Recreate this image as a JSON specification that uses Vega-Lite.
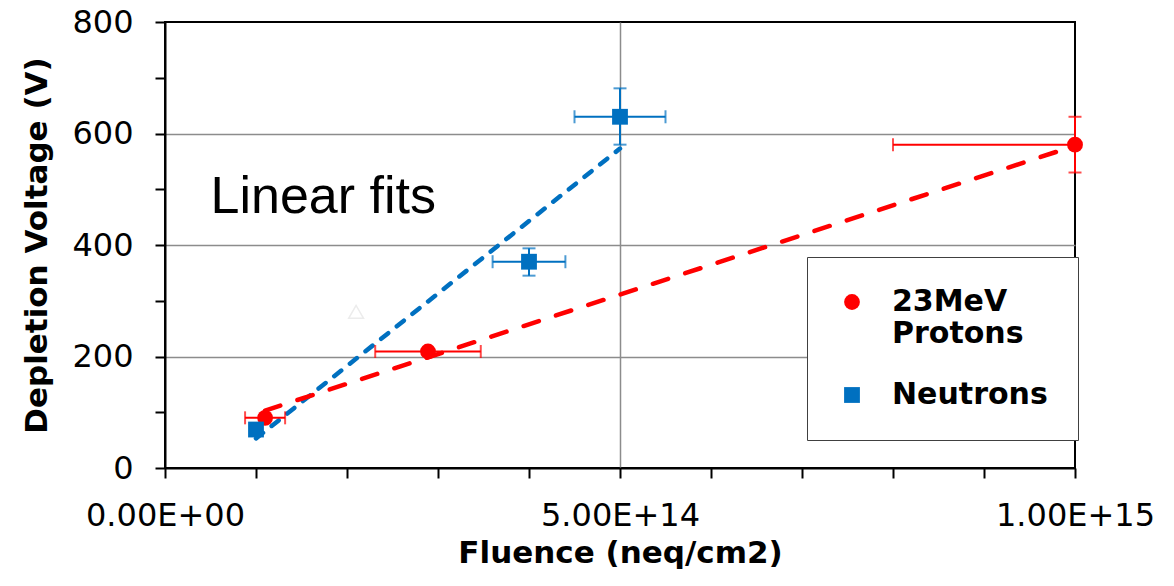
{
  "$schema": "https://vega.github.io/schema/vega-lite/v6.json",
  "width": 910,
  "height": 446,
  "autosize": {"type": "none"},
  "padding": {"left": 165, "top": 22, "right": 99, "bottom": 118},
  "background": "white",
  "config": {
    "view": {"stroke": "black", "strokeWidth": 2},
    "font": "DejaVu Sans",
    "axis": {
      "domainColor": "black", "domainWidth": 2,
      "tickColor": "black", "tickWidth": 2,
      "gridColor": "#8c8c8c", "gridWidth": 1.5,
      "labelFont": "DejaVu Sans", "labelFontSize": 32, "labelColor": "black",
      "titleFont": "DejaVu Sans", "titleFontWeight": "bold", "titleFontSize": 31, "titleColor": "black",
      "labelOverlap": false, "labelFlush": false
    },
    "legend": {
      "strokeColor": "#404040", "fillColor": "white", "padding": 30,
      "labelFont": "DejaVu Sans", "labelFontWeight": "bold", "labelFontSize": 30, "labelColor": "black",
      "labelLimit": 500, "labelOffset": 25, "rowPadding": 31,
      "symbolSize": 250, "symbolStrokeWidth": 0
    }
  },
  "datasets": {
    "points": [
      {"series": "23MeV Protons", "fluence": 1.1e14, "voltage": 90, "fluence_lo": 0.88e14, "fluence_hi": 1.32e14},
      {"series": "23MeV Protons", "fluence": 2.89e14, "voltage": 209, "fluence_lo": 2.31e14, "fluence_hi": 3.47e14},
      {"series": "23MeV Protons", "fluence": 1e15, "voltage": 580, "fluence_lo": 8e14, "fluence_hi": 1.2e15, "voltage_lo": 530, "voltage_hi": 630},
      {"series": "Neutrons", "fluence": 1e14, "voltage": 69},
      {"series": "Neutrons", "fluence": 4e14, "voltage": 370, "fluence_lo": 3.6e14, "fluence_hi": 4.4e14, "voltage_lo": 345, "voltage_hi": 394},
      {"series": "Neutrons", "fluence": 5e14, "voltage": 630, "fluence_lo": 4.5e14, "fluence_hi": 5.5e14, "voltage_lo": 580, "voltage_hi": 681}
    ],
    "fits": [
      {"series": "23MeV Protons", "fluence": 1.1e14, "voltage": 103},
      {"series": "23MeV Protons", "fluence": 1e15, "voltage": 578},
      {"series": "Neutrons", "fluence": 1e14, "voltage": 53},
      {"series": "Neutrons", "fluence": 5e14, "voltage": 573}
    ],
    "hidden": [
      {"fluence": 2.1e14, "voltage": 280}
    ]
  },
  "layer": [
    {
      "data": {"name": "hidden"},
      "mark": {"type": "point", "shape": "triangle-up", "filled": false, "stroke": "#ececec", "strokeWidth": 1.5, "size": 220, "opacity": 1},
      "encoding": {
        "x": {
          "field": "fluence", "type": "quantitative", "title": "Fluence (neq/cm2)",
          "scale": {"domain": [0, 1e15], "nice": false, "zero": false},
          "axis": {
            "values": [0, 1e14, 2e14, 3e14, 4e14, 5e14, 6e14, 7e14, 8e14, 9e14, 1e15],
            "labelExpr": "datum.value == 0 ? '0.00E+00' : (datum.value % 5e14 == 0 ? upper(format(datum.value, '.2e')) : '')",
            "tickSize": 10, "labelPadding": 22, "titlePadding": 7,
            "grid": true,
            "gridOpacity": {"condition": {"test": "datum.value == 5e14", "value": 1}, "value": 0}
          }
        },
        "y": {
          "field": "voltage", "type": "quantitative", "title": "Depletion Voltage (V)",
          "scale": {"domain": [0, 800], "nice": false, "zero": false},
          "axis": {
            "values": [0, 50, 100, 150, 200, 250, 300, 350, 400, 450, 500, 550, 600, 650, 700, 750, 800],
            "labelExpr": "datum.value % 200 == 0 ? datum.label : ''",
            "tickSize": 10, "labelPadding": 22, "titlePadding": 18,
            "grid": true,
            "gridOpacity": {"condition": {"test": "datum.value % 200 == 0 && datum.value > 0 && datum.value < 800", "value": 1}, "value": 0}
          }
        }
      }
    },
    {
      "data": {"name": "fits"},
      "transform": [{"filter": "datum.series == 'Neutrons'"}],
      "mark": {"type": "line", "color": "#0070C0", "strokeWidth": 4.5, "strokeDash": [9, 11], "strokeCap": "round"},
      "encoding": {
        "x": {"field": "fluence", "type": "quantitative", "title": "Fluence (neq/cm2)"},
        "y": {"field": "voltage", "type": "quantitative", "title": "Depletion Voltage (V)"}
      }
    },
    {
      "data": {"name": "fits"},
      "transform": [{"filter": "datum.series == '23MeV Protons'"}],
      "mark": {"type": "line", "color": "#FF0000", "strokeWidth": 4.5, "strokeDash": [16, 18], "strokeCap": "round"},
      "encoding": {
        "x": {"field": "fluence", "type": "quantitative", "title": "Fluence (neq/cm2)"},
        "y": {"field": "voltage", "type": "quantitative", "title": "Depletion Voltage (V)"}
      }
    },
    {
      "data": {"name": "points"},
      "transform": [{"filter": "isValid(datum.fluence_lo)"}],
      "mark": {"type": "rule", "strokeWidth": 2, "clip": true},
      "encoding": {
        "x": {"field": "fluence_lo", "type": "quantitative", "title": "Fluence (neq/cm2)"},
        "x2": {"field": "fluence_hi"},
        "y": {"field": "voltage", "type": "quantitative", "title": "Depletion Voltage (V)"},
        "stroke": {"field": "series", "type": "nominal", "scale": {"range": ["#FF0000", "#0070C0"]}, "legend": null}
      }
    },
    {
      "data": {"name": "points"},
      "transform": [
        {"filter": "isValid(datum.fluence_lo)"},
        {"fold": ["fluence_lo", "fluence_hi"], "as": ["end", "cap"]}
      ],
      "mark": {"type": "tick", "orient": "vertical", "thickness": 2, "size": 13, "clip": true},
      "encoding": {
        "x": {"field": "cap", "type": "quantitative", "title": "Fluence (neq/cm2)"},
        "y": {"field": "voltage", "type": "quantitative", "title": "Depletion Voltage (V)"},
        "fill": {"field": "series", "type": "nominal", "scale": {"range": ["#FF0000", "#0070C0"]}, "legend": null}
      }
    },
    {
      "data": {"name": "points"},
      "transform": [{"filter": "isValid(datum.voltage_lo)"}],
      "mark": {"type": "rule", "strokeWidth": 2},
      "encoding": {
        "x": {"field": "fluence", "type": "quantitative", "title": "Fluence (neq/cm2)"},
        "y": {"field": "voltage_lo", "type": "quantitative", "title": "Depletion Voltage (V)"},
        "y2": {"field": "voltage_hi"},
        "stroke": {"field": "series", "type": "nominal", "scale": {"range": ["#FF0000", "#0070C0"]}, "legend": null}
      }
    },
    {
      "data": {"name": "points"},
      "transform": [
        {"filter": "isValid(datum.voltage_lo)"},
        {"fold": ["voltage_lo", "voltage_hi"], "as": ["end", "cap"]}
      ],
      "mark": {"type": "tick", "orient": "horizontal", "thickness": 2, "size": 13},
      "encoding": {
        "x": {"field": "fluence", "type": "quantitative", "title": "Fluence (neq/cm2)"},
        "y": {"field": "cap", "type": "quantitative", "title": "Depletion Voltage (V)"},
        "fill": {"field": "series", "type": "nominal", "scale": {"range": ["#FF0000", "#0070C0"]}, "legend": null}
      }
    },
    {
      "data": {"name": "points"},
      "mark": {"type": "point", "filled": true, "size": 250, "opacity": 1},
      "encoding": {
        "x": {"field": "fluence", "type": "quantitative", "title": "Fluence (neq/cm2)"},
        "y": {"field": "voltage", "type": "quantitative", "title": "Depletion Voltage (V)"},
        "color": {
          "field": "series", "type": "nominal", "title": null,
          "scale": {"domain": ["23MeV Protons", "Neutrons"], "range": ["#FF0000", "#0070C0"]},
          "legend": {
            "orient": "none", "legendX": 642, "legendY": 235,
            "labelExpr": "datum.label == '23MeV Protons' ? ['23MeV', 'Protons'] : datum.label"
          }
        },
        "shape": {
          "field": "series", "type": "nominal", "title": null,
          "scale": {"domain": ["23MeV Protons", "Neutrons"], "range": ["circle", "square"]},
          "legend": {
            "orient": "none", "legendX": 642, "legendY": 235,
            "labelExpr": "datum.label == '23MeV Protons' ? ['23MeV', 'Protons'] : datum.label"
          }
        }
      }
    },
    {
      "data": {"values": [{"note": "Linear fits"}]},
      "mark": {"type": "text", "font": "Liberation Sans", "fontSize": 52, "align": "left", "baseline": "alphabetic", "color": "black"},
      "encoding": {
        "text": {"field": "note", "type": "nominal"},
        "x": {"datum": 5.0e13, "type": "quantitative", "title": "Fluence (neq/cm2)"},
        "y": {"datum": 457, "type": "quantitative", "title": "Depletion Voltage (V)"}
      }
    }
  ]
}
